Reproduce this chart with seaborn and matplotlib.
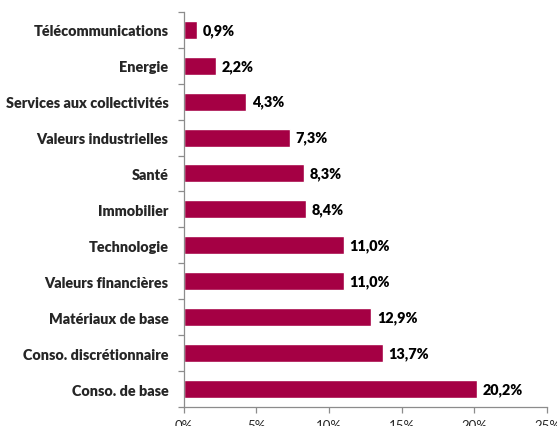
import matplotlib
matplotlib.use("Agg")
import matplotlib.pyplot as plt
import seaborn as sns
import pandas as pd
import numpy as np
from matplotlib.ticker import FuncFormatter, FixedLocator

# Data
sectors = [
    "Télécommunications", "Energie", "Services aux collectivités",
    "Valeurs industrielles", "Santé", "Immobilier", "Technologie",
    "Valeurs financières", "Matériaux de base", "Conso. discrétionnaire",
    "Conso. de base",
]
weights = [0.9, 2.2, 4.3, 7.3, 8.3, 8.4, 11.0, 11.0, 12.9, 13.7, 20.2]
x_ticks = [0, 5, 10, 15, 20, 25]

df = pd.DataFrame({"secteur": sectors, "poids": weights})

sns.set_style("white")
plt.rcParams["font.family"] = ["Lato", "DejaVu Sans"]

fig = plt.figure(figsize=(5.57, 4.27), dpi=100)
ax = fig.add_axes([0.330, 0.0445, 0.652, 0.9255])

sns.barplot(data=df, x="poids", y="secteur", orient="h", color="#A50044",
            width=0.5, saturation=1, ax=ax)

ax.set_xlim(0, 25)
ax.set_ylim(len(sectors) - 0.5, -0.5)
ax.set_xlabel("")
ax.set_ylabel("")

# value labels
labels = [f"{v:.1f}%".replace(".", ",") for v in weights]
ax.bar_label(ax.containers[0], labels=labels, padding=4,
             fontsize=10.4, fontweight="heavy", color="black")

# axes styling (Excel-like)
for s in ["top", "right"]:
    ax.spines[s].set_visible(False)
for s in ["left", "bottom"]:
    ax.spines[s].set_color("#8c8c8c")
    ax.spines[s].set_linewidth(0.9)

ax.xaxis.set_major_locator(FixedLocator(x_ticks))
ax.xaxis.set_major_formatter(FuncFormatter(lambda v, p: f"{int(v)}%"))
ax.tick_params(axis="x", length=4, width=0.9, color="#8c8c8c",
               labelsize=9.5, pad=5, bottom=True)

ax.set_yticks(range(len(sectors)))
ax.set_yticklabels(sectors, fontsize=10.4, fontweight="heavy")
ax.tick_params(axis="y", length=0, pad=11)
ax.set_yticks(np.arange(-0.5, len(sectors), 1), minor=True)
ax.tick_params(axis="y", which="minor", length=4, width=0.9,
               color="#8c8c8c", left=True)

fig.savefig("out.png", dpi=100)
